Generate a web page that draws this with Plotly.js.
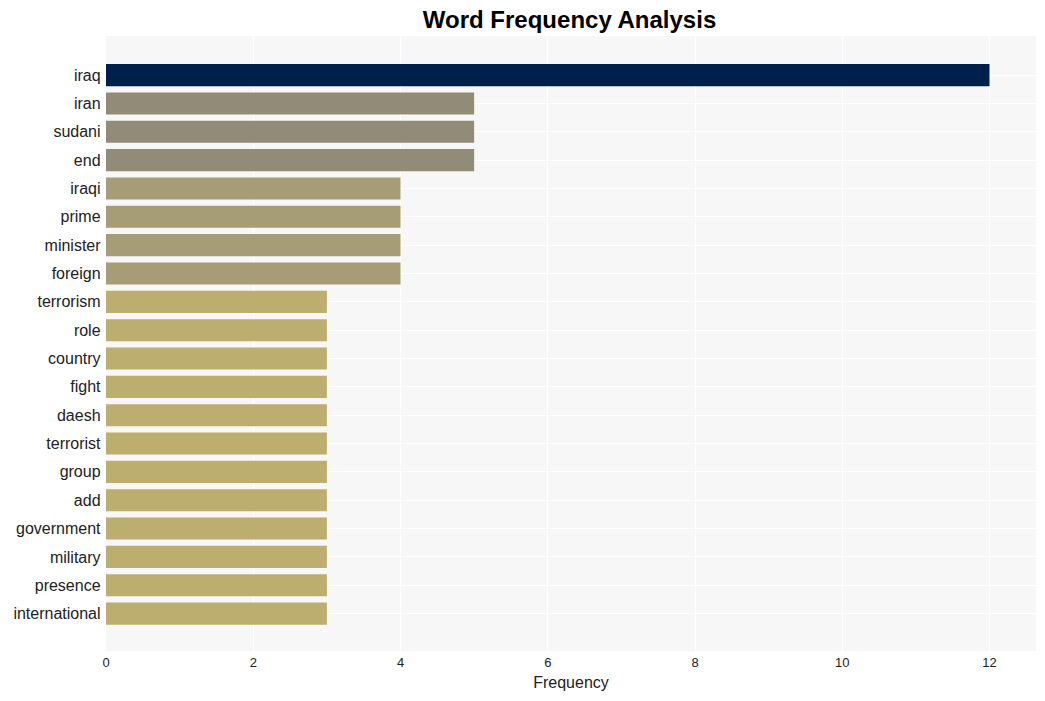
<!DOCTYPE html>
<html>
<head>
<meta charset="utf-8">
<script src="https://cdn.plot.ly/plotly-3.0.1.min.js"></script>
<style>html,body{margin:0;padding:0;background:#fff;}#chart{width:1045px;height:701px;}</style>
</head>
<body>
<div id="chart"></div>
<script>
var words = ["iraq","iran","sudani","end","iraqi","prime","minister","foreign","terrorism","role","country","fight","daesh","terrorist","group","add","government","military","presence","international"];
var counts = [12,5,5,5,4,4,4,4,3,3,3,3,3,3,3,3,3,3,3,3];

var trace = {
  type: 'bar',
  orientation: 'h',
  x: counts,
  y: words,
  marker: {
    color: counts,
    colorscale: 'Cividis',
    reversescale: true,
    cmin: 0,
    cmax: 12
  },
  hoverinfo: 'x+y'
};

var layout = {
  width: 1045,
  height: 701,
  margin: {l: 106, r: 9, t: 36, b: 50},
  paper_bgcolor: '#ffffff',
  plot_bgcolor: '#f7f7f7',
  bargap: 0.22,
  font: {family: 'Liberation Sans, Arial, sans-serif', color: '#222'},
  title: {
    text: '<b>Word Frequency Analysis</b>',
    x: 0.545,
    xanchor: 'center',
    y: 0.972,
    yanchor: 'middle',
    font: {size: 24, color: '#000', family: 'Liberation Sans, Arial, sans-serif'}
  },
  xaxis: {
    title: {text: 'Frequency', font: {size: 16, color: '#222'}, standoff: 7},
    tickfont: {size: 13, color: '#222'},
    ticklabelstandoff: 2,
    gridcolor: '#ffffff',
    zeroline: false,
    dtick: 2,
    ticks: '',
    autorange: true
  },
  yaxis: {
    type: 'category',
    categoryorder: 'array',
    categoryarray: words,
    range: [20.32, -1.38],
    tickfont: {size: 16, color: '#222'},
    gridcolor: '#ffffff',
    ticks: '',
    ticksuffix: ' '
  },
  showlegend: false
};

Plotly.newPlot('chart', [trace], layout, {displayModeBar: false, staticPlot: true});
</script>
</body>
</html>
